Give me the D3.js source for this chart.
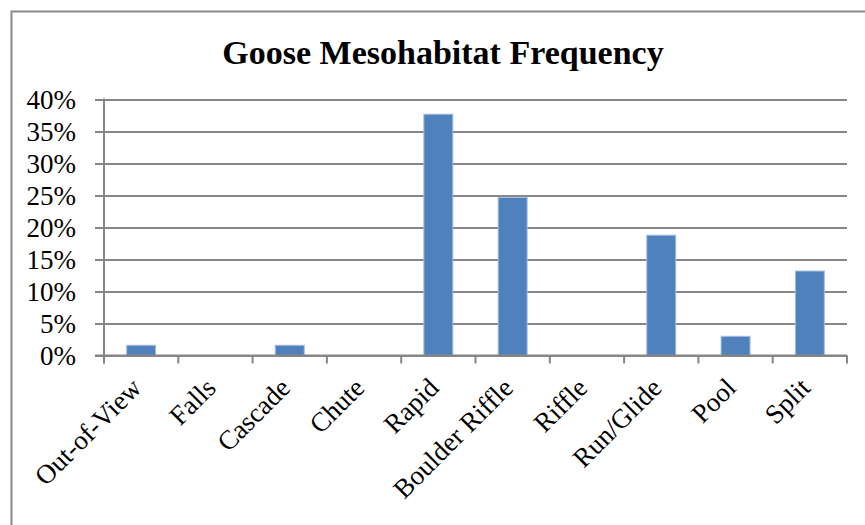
<!DOCTYPE html>
<html>
<head>
<meta charset="utf-8">
<script src="https://cdn.jsdelivr.net/npm/d3@7"></script>
<style>
  html, body { margin: 0; padding: 0; background: #fff; }
  svg { display: block; }
  text { font-family: "Liberation Serif", "Times New Roman", serif; fill: #000; }
</style>
</head>
<body>
<svg id="chart" width="865" height="525"></svg>
<script>
// Mesohabitat categories and their share of observations
const categories = ["Out-of-View", "Falls", "Cascade", "Chute", "Rapid",
                    "Boulder Riffle", "Riffle", "Run/Glide", "Pool", "Split"];
const frequency = [0.016, 0, 0.016, 0, 0.377, 0.247, 0, 0.188, 0.030, 0.132];
const yTicks = [0, 0.05, 0.10, 0.15, 0.20, 0.25, 0.30, 0.35, 0.40];
const chartTitle = "Goose Mesohabitat Frequency";

const svg = d3.select("#chart");
const W = 865, H = 525;
const plot = { left: 104, right: 847, top: 99.5, bottom: 355.5 };
const axisColor = "#868686";

// outer chart frame (runs off the right and bottom edges)
svg.append("rect")
  .attr("x", 11.5).attr("y", 11.5)
  .attr("width", W + 10).attr("height", H + 10)
  .attr("fill", "#fff")
  .attr("stroke", "#8a8a8a").attr("stroke-width", 2);

const x = d3.scaleBand().domain(categories).range([plot.left, plot.right]);
const y = d3.scaleLinear().domain([0, 0.40]).range([plot.bottom, plot.top]);

// title
svg.append("text")
  .attr("x", 443).attr("y", 64)
  .attr("text-anchor", "middle")
  .attr("font-size", 34).attr("font-weight", "bold")
  .text(chartTitle);

// horizontal gridlines with outward ticks, plus y labels
const yAxis = d3.axisLeft(y)
  .tickValues(yTicks)
  .tickSize(-(plot.right - plot.left))
  .tickPadding(28)
  .tickFormat(d3.format(".0%"));

const gy = svg.append("g")
  .attr("transform", `translate(${plot.left},0)`)
  .call(yAxis);
gy.select(".domain").remove();
gy.selectAll(".tick line")
  .attr("x1", -9)
  .attr("stroke", axisColor).attr("stroke-width", 2);
gy.selectAll(".tick text")
  .attr("font-size", 27)
  .attr("font-family", "Liberation Serif, serif")
  .attr("fill", "#000");

// vertical axis line
svg.append("line")
  .attr("x1", plot.left).attr("x2", plot.left)
  .attr("y1", plot.top - 1).attr("y2", plot.bottom + 8)
  .attr("stroke", axisColor).attr("stroke-width", 2);

// bars
const barW = x.bandwidth() * 0.39;
svg.append("g").selectAll("rect")
  .data(categories.map((c, i) => ({ c, v: frequency[i] })).filter(d => d.v > 0))
  .join("rect")
  .attr("x", d => x(d.c) + (x.bandwidth() - barW) / 2)
  .attr("y", d => y(d.v))
  .attr("width", barW)
  .attr("height", d => y(0) - y(d.v))
  .attr("fill", "#4F81BD")
  .attr("stroke", "#A7C0DE").attr("stroke-width", 1);

// category axis with tick marks between bands
const boundaries = d3.range(categories.length + 1)
  .map(i => plot.left + i * x.step());
const gx = svg.append("g");
gx.append("line")
  .attr("x1", plot.left - 9).attr("x2", plot.right)
  .attr("y1", plot.bottom).attr("y2", plot.bottom)
  .attr("stroke", axisColor).attr("stroke-width", 2);
gx.selectAll("line.tk")
  .data(boundaries)
  .join("line").attr("class", "tk")
  .attr("x1", d => d).attr("x2", d => d)
  .attr("y1", plot.bottom).attr("y2", plot.bottom + 8)
  .attr("stroke", axisColor).attr("stroke-width", 2);

// rotated category labels
gx.selectAll("text")
  .data(categories)
  .join("text")
  .attr("text-anchor", "end")
  .attr("font-size", 27)
  .attr("transform", d => `translate(${x(d) + x.bandwidth() / 2 + 2},${plot.bottom + 34}) rotate(-45)`)
  .text(d => d);
</script>
</body>
</html>
